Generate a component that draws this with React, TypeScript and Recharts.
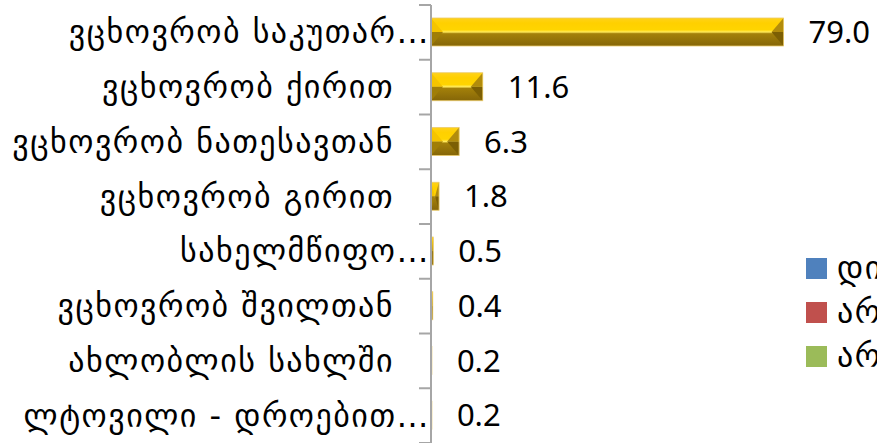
import { BarChart, Bar, XAxis, YAxis, LabelList, Legend } from "recharts";

const categories = [
  "ვცხოვრობ საკუთარ…",
  "ვცხოვრობ ქირით",
  "ვცხოვრობ ნათესავთან",
  "ვცხოვრობ გირით",
  "სახელმწიფო…",
  "ვცხოვრობ შვილთან",
  "ახლობლის სახლში",
  "ლტოვილი - დროებით…",
];
const values = [79.0, 11.6, 6.3, 1.8, 0.5, 0.4, 0.2, 0.2];

const legendNames = ["დიახ", "არა", "არ ვიცი"];
const legendColors = ["#4F81BD", "#C0504D", "#9BBB59"];

const data = categories.map((name, i) => ({ name, value: values[i] }));

const W = 877;
const H = 443;
const TOP = 5;
const BAND = (H - TOP) / categories.length;
const GEO = "'DejaVu Sans', 'Noto Sans', sans-serif";

const CategoryTick = (props: any) => {
  const { x, y, payload, index } = props;
  const label: string = payload.value;
  const cut = label.endsWith("…");
  const half = BAND / 2;
  return (
    <g>
      <line x1={x - 12} x2={x} y1={y - half} y2={y - half} stroke="#A6A6A6" strokeWidth={2} />
      {index === categories.length - 1 && (
        <line x1={x - 12} x2={x} y1={y + half} y2={y + half} stroke="#A6A6A6" strokeWidth={2} />
      )}
      <text
        x={cut ? x - 1 : x - 37}
        y={y}
        textAnchor="end"
        dominantBaseline="central"
        fontSize={32}
        letterSpacing={1.5}
        fontFamily={GEO}
        fill="#000"
      >
        {label}
      </text>
    </g>
  );
};

const GoldBar = (props: any) => {
  const { x, y, width, height } = props;
  if (!width || width <= 0) return null;
  const b = Math.min(12, width / 2);
  const x2 = x + width;
  const y2 = y + height;
  const m = y + height / 2;
  return (
    <g>
      <rect x={x} y={y} width={width} height={height} fill="url(#goldFace)" />
      <polygon points={`${x},${y} ${x + b},${m} ${x},${m}`} fill="#F5C400" />
      <polygon points={`${x},${m} ${x + b},${m} ${x},${y2}`} fill="#A07E08" />
      <polygon points={`${x2},${y} ${x2 - b},${m} ${x2},${m}`} fill="#B28C0C" />
      <polygon points={`${x2},${m} ${x2 - b},${m} ${x2},${y2}`} fill="#7C5F04" />
      <rect x={x} y={y} width={width} height={height} fill="none" stroke="#EBCB6A" strokeWidth={0.8} />
    </g>
  );
};

const LegendBox = () => (
  <div style={{ fontFamily: GEO }}>
    {legendNames.map((name, i) => (
      <div key={name} style={{ display: "flex", alignItems: "center", height: 44 }}>
        <span
          style={{ width: 21, height: 21, background: legendColors[i], marginRight: 10, flex: "none" }}
        />
        <span style={{ fontSize: 32, letterSpacing: 1.5, whiteSpace: "nowrap" }}>{name}</span>
      </div>
    ))}
  </div>
);

export default function App() {
  return (
    <div
      style={{
        position: "absolute",
        left: 0,
        top: 0,
        width: W,
        height: H,
        overflow: "hidden",
        background: "#fff",
      }}
    >
      <BarChart
        width={W}
        height={H}
        data={data}
        layout="vertical"
        margin={{ top: TOP, right: 89, bottom: 0, left: 0 }}
        barSize={28}
      >
        <defs>
          <linearGradient id="goldFace" x1="0" y1="0" x2="0" y2="1">
            <stop offset="0%" stopColor="#FFD21A" />
            <stop offset="18%" stopColor="#FFD000" />
            <stop offset="42%" stopColor="#FFD400" />
            <stop offset="50%" stopColor="#FFEA5C" />
            <stop offset="56%" stopColor="#A3800A" />
            <stop offset="100%" stopColor="#856608" />
          </linearGradient>
        </defs>
        <XAxis type="number" domain={[0, 80]} hide />
        <YAxis
          type="category"
          dataKey="name"
          width={431}
          axisLine={{ stroke: "#A6A6A6", strokeWidth: 2 }}
          tickLine={false}
          tickSize={0}
          tickMargin={0}
          tick={<CategoryTick />}
          interval={0}
        />
        <Legend
          layout="vertical"
          align="center"
          verticalAlign="middle"
          content={<LegendBox />}
          wrapperStyle={{ left: 806, top: 246 }}
        />
        <Bar dataKey="value" shape={<GoldBar />} isAnimationActive={false}>
          <LabelList
            dataKey="value"
            position="right"
            offset={25}
            formatter={(v: any) => Number(v).toFixed(1)}
            style={{ fontSize: 31, fontFamily: "'Noto Sans', sans-serif", fill: "#000" }}
          />
        </Bar>
      </BarChart>
    </div>
  );
}
